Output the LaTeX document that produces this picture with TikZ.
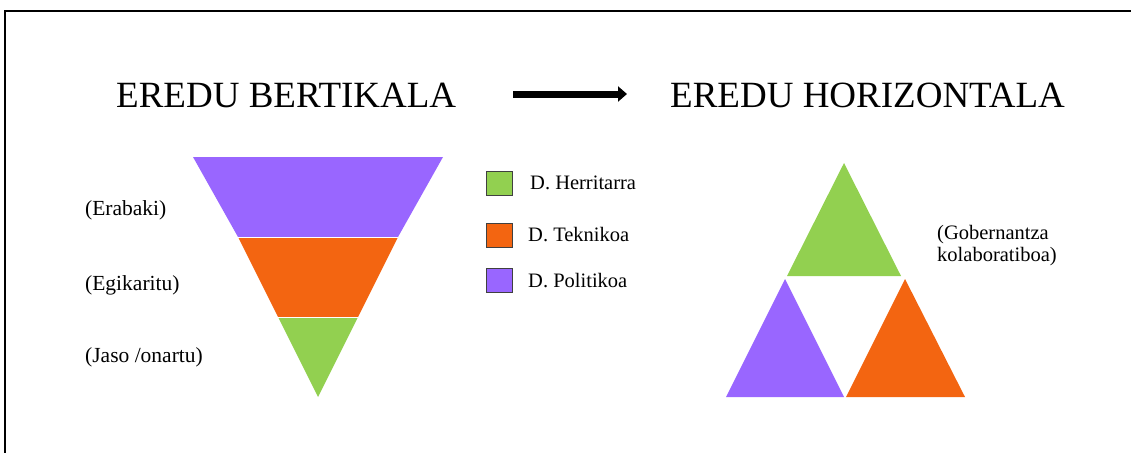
\documentclass[tikz,border=0pt]{standalone}
\usepackage{fontspec}
\setmainfont{Liberation Serif}
\usetikzlibrary{arrows.meta}
\definecolor{cpurple}{HTML}{9966FF}
\definecolor{corange}{HTML}{F36511}
\definecolor{cgreen}{HTML}{92D050}
\tikzset{
  title/.style={anchor=base west, inner sep=0pt, font=\fontsize{37}{44}\selectfont},
  lbl/.style={anchor=west, inner sep=0pt, font=\fontsize{21.5}{26}\selectfont},
  leg/.style={anchor=west, inner sep=0pt, font=\fontsize{20.5}{24}\selectfont},
  legbox/.style={draw=black!75, line width=0.8pt, minimum width=26pt, minimum height=24pt, inner sep=0pt},
  band/.style={draw=white, line width=0.8pt}
}
\begin{document}
\begin{tikzpicture}[x=1pt,y=-1pt]
\useasboundingbox (0,0) rectangle (1131,452);
\begin{scope}
\clip (0,0) rectangle (1131,452);
\draw[line width=2.2pt] (1140,11) -- (5,11) -- (5,460);
\end{scope}
% titles
\node[title] (t1) at (116,107) {EREDU BERTIKALA};
\node[title] (t2) at (670,107) {EREDU HORIZONTALA};
\coordinate (a1) at (513,94);
\coordinate (a2) at (627,94);
\draw[line width=7pt, -{Triangle[length=9pt,width=15pt]}] (a1) -- (a2);
% inverted triangle
\fill[cpurple] (193,157) -- (443,157) -- (398,237) -- (238,237) -- cycle;
\fill[corange] (238,237) -- (398,237) -- (358,317) -- (278,317) -- cycle;
\fill[cgreen] (278,317) -- (358,317) -- (318,397) -- cycle;
\draw[band] (238,237) -- (398,237);
\draw[band] (278,317) -- (358,317);
\node[lbl] (l1) at (85,210) {(Erabaki)};
\node[lbl] (l2) at (85,285) {(Egikaritu)};
\node[lbl] (l3) at (85,357) {(Jaso /onartu)};
% legend
\node[legbox, fill=cgreen] (s1) at (499,183) {};
\node[legbox, fill=corange] (s2) at (499,235) {};
\node[legbox, fill=cpurple] (s3) at (499,280) {};
\node[leg] (g1) at (530,183) {D. Herritarra};
\node[leg] (g2) at (528,235) {D. Teknikoa};
\node[leg] (g3) at (528,281) {D. Politikoa};
% right triangles
\fill[cgreen] (844,163) -- (901,276) -- (787,276) -- cycle;
\fill[cpurple] (785,279) -- (844,397) -- (726,397) -- cycle;
\fill[corange] (905,279) -- (965,397) -- (846,397) -- cycle;
\node[lbl, align=left, font=\fontsize{20.5}{22}\selectfont] (gk) at (937,246) {(Gobernantza\\kolaboratiboa)};
\end{tikzpicture}
\end{document}
